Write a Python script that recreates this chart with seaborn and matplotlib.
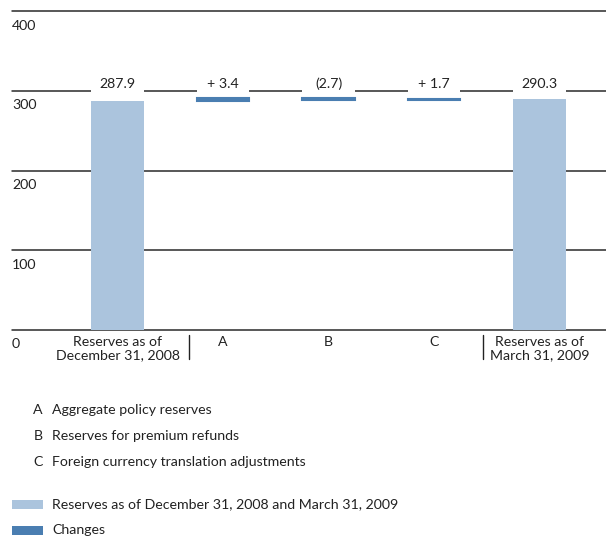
import numpy as np
import pandas as pd
import matplotlib
matplotlib.use("Agg")
import matplotlib.pyplot as plt
from matplotlib.patches import Rectangle
import seaborn as sns

# =========================
# Data
# =========================
categories = ["Reserves as of\nDecember 31, 2008", "A", "B", "C", "Reserves as of\nMarch 31, 2009"]
values = [287.9, 3.4, -2.7, 1.7, 290.3]
kinds = ["total", "change", "change", "change", "total"]
y_ticks = [0, 100, 200, 300, 400]
notes = [("A", "Aggregate policy reserves"),
         ("B", "Reserves for premium refunds"),
         ("C", "Foreign currency translation adjustments")]
legend_labels = ["Reserves as of December 31, 2008 and March 31, 2009", "Changes"]

LIGHT = "#abc4dd"
DARK = "#4a7eb1"
LINE = "#2a2a2a"
TEXT = "#222222"
FS = 10.2

# =========================
# Waterfall geometry
# =========================
bottoms = []
running = 0.0
for v, k in zip(values, kinds):
    if k == "total":
        bottoms.append(0.0)
        running = v
    else:
        bottoms.append(running)
        running += v
tops = [max(b, b + v) for b, v in zip(bottoms, values)]

def fmt(v, k):
    if k == "total":
        return f"{v:.1f}"
    return f"+ {v:.1f}" if v > 0 else f"({abs(v):.1f})"

df = pd.DataFrame({"cat": categories, "value": values, "bottom": bottoms, "top": tops,
                   "mask": [318 - t for t in tops]})

# =========================
# Plot
# =========================
sns.set_style("white")
plt.rcParams["font.family"] = ["Lato", "DejaVu Sans"]
plt.rcParams["font.size"] = FS

fig = plt.figure(figsize=(6.06, 5.36), dpi=100)
ax = fig.add_axes([12 / 606, 1 - 330 / 536, 594 / 606, 318.6 / 536])

# white masks that break the gridline above each column
sns.barplot(data=df, x="cat", y="mask", bottom=df["top"].to_numpy(), color="white",
            width=0.5, errorbar=None, linewidth=0, saturation=1, ax=ax, zorder=2)
sns.barplot(data=df, x="cat", y="value", bottom=df["bottom"].to_numpy(), color=LIGHT,
            width=0.5, errorbar=None, linewidth=1.5, saturation=1, ax=ax, zorder=3)

n = len(categories)
for patch, k in zip(ax.patches[n:], kinds):
    c = LIGHT if k == "total" else DARK
    patch.set_facecolor(c)
    patch.set_edgecolor(c if k == "change" else "none")

for yv in y_ticks:
    ax.axhline(yv, color=LINE, lw=1.1, zorder=1, clip_on=False)
    ax.annotate(str(yv), xy=(0, yv), xycoords=("axes fraction", "data"),
                xytext=(0, -6), textcoords="offset points", ha="left", va="top",
                color=TEXT, fontsize=FS)

for i, (v, k) in enumerate(zip(values, kinds)):
    ax.text(i, 309, fmt(v, k), ha="center", va="center", color=TEXT, fontsize=FS, zorder=4)

ax.set_ylim(0, 400)
ax.set_xlim(-1.0, 4.63)
ax.set_yticks([])
ax.set_xlabel("")
ax.set_ylabel("")
ax.tick_params(axis="x", length=0, pad=4, labelsize=FS, colors=TEXT)
sns.despine(ax=ax, left=True, bottom=True)

# separators between totals and changes
for xpx in (189, 483):
    fig.add_artist(plt.Line2D([xpx / 606, xpx / 606], [1 - 335 / 536, 1 - 359 / 536],
                              color=TEXT, lw=1))

# notes
for j, (letter, text) in enumerate(notes):
    ypx = 410 + j * 26
    fig.text(43 / 606, 1 - ypx / 536, letter, ha="right", va="center", color=TEXT, fontsize=FS)
    fig.text(52 / 606, 1 - ypx / 536, text, ha="left", va="center", color=TEXT, fontsize=FS)

# legend
for j, (lab, col) in enumerate(zip(legend_labels, [LIGHT, DARK])):
    ypx = 504 + j * 26
    fig.add_artist(Rectangle((12 / 606, 1 - (ypx + 4.5) / 536), 31 / 606, 9 / 536,
                             facecolor=col, edgecolor="none", transform=fig.transFigure))
    fig.text(52 / 606, 1 - ypx / 536, lab, ha="left", va="center", color=TEXT, fontsize=FS)

fig.savefig("out.png", dpi=100)
